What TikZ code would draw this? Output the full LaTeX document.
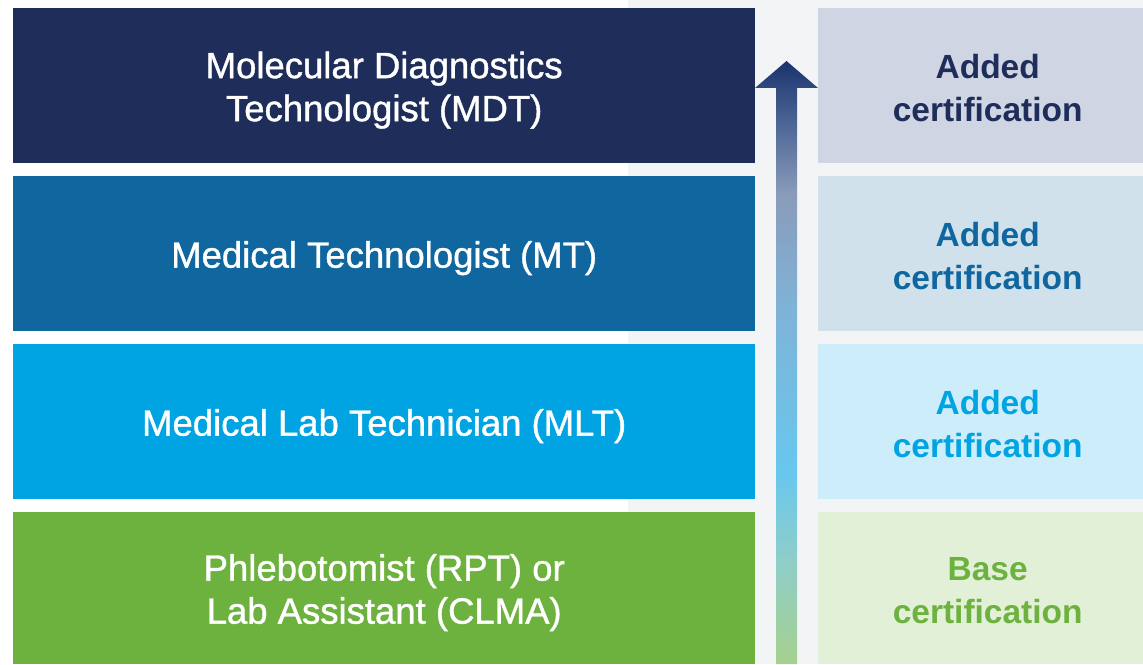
\documentclass[tikz,border=0pt]{standalone}
\usepackage{fontspec}
\setmainfont{Liberation Sans}
\newfontfamily\levelfont{Liberation Sans}[FakeBold=1.1]

% palette
\definecolor{mdtdark}{HTML}{1E2D5A}
\definecolor{mtblue}{HTML}{10679F}
\definecolor{mltcyan}{HTML}{00A4E2}
\definecolor{rptgreen}{HTML}{6DB23E}
\definecolor{mdtpale}{HTML}{D0D5E3}
\definecolor{mtpale}{HTML}{D0E1EC}
\definecolor{mltpale}{HTML}{CCEDF9}
\definecolor{rptpale}{HTML}{E2F0D8}
\definecolor{panelgray}{HTML}{F3F4F6}

% upward arrow gradient, bottom (25bp) to top (75bp)
\pgfdeclareverticalshading{ladder}{100bp}{%
  color(0bp)=({rgb,255:red,166;green,208;blue,142});
  color(25bp)=({rgb,255:red,166;green,208;blue,142});
  color(33.5bp)=({rgb,255:red,143;green,206;blue,200});
  color(41bp)=({rgb,255:red,104;green,199;blue,238});
  color(55bp)=({rgb,255:red,128;green,178;blue,214});
  color(64bp)=({rgb,255:red,138;green,155;blue,186});
  color(70bp)=({rgb,255:red,74;green,100;blue,148});
  color(75bp)=({rgb,255:red,27;green,51;blue,110});
  color(100bp)=({rgb,255:red,27;green,51;blue,110})}

\tikzset{
  levelbox/.style={rectangle, inner sep=0pt, minimum width=742pt, minimum height=155pt,
    anchor=north west},
  certbox/.style={rectangle, inner sep=0pt, minimum width=339pt, minimum height=155pt,
    anchor=north west},
  leveltext/.style={inner sep=0pt, text=white, align=center,
    font=\levelfont\fontsize{36.5}{43}\selectfont},
  certtext/.style={inner sep=0pt, align=center,
    font=\bfseries\fontsize{33.5}{43}\selectfont},
}

\begin{document}
\begin{tikzpicture}[x=1pt,y=1pt]
  % canvas
  \fill[white] (0,0) rectangle (1143,664);
  \fill[panelgray] (628,0) rectangle (1143,664);
  \useasboundingbox (0,0) rectangle (1143,664);

  % career levels
  \node[levelbox, fill=mdtdark] (mdt) at (13,656) {};
  \node[levelbox, fill=mtblue] (mt) at (13,488) {};
  \node[levelbox, fill=mltcyan] (mlt) at (13,320) {};
  \node[levelbox, fill=rptgreen, minimum height=152pt] (rpt) at (13,152) {};

  \node[leveltext] (mdtlabel) at ([yshift=-4.5pt]mdt.center)
    {Molecular Diagnostics\\Technologist (MDT)};
  \node[leveltext] (mtlabel) at ([yshift=-4.5pt]mt.center)
    {Medical Technologist (MT)};
  \node[leveltext] (mltlabel) at ([yshift=-4.5pt]mlt.center)
    {Medical Lab Technician (MLT)};
  \node[leveltext] (rptlabel) at ([yshift=-4.5pt]rpt.center)
    {Phlebotomist (RPT) or\\Lab Assistant (CLMA)};

  % certifications
  \node[certbox, fill=mdtpale] (cmdt) at (818,656) {};
  \node[certbox, fill=mtpale] (cmt) at (818,488) {};
  \node[certbox, fill=mltpale] (cmlt) at (818,320) {};
  \node[certbox, fill=rptpale, minimum height=152pt] (crpt) at (818,152) {};

  \node[certtext, text=mdtdark] (cmdtlabel) at ([yshift=-2pt]cmdt.center)
    {Added\\certification};
  \node[certtext, text=mtblue] (cmtlabel) at ([yshift=-2pt]cmt.center)
    {Added\\certification};
  \node[certtext, text=mltcyan] (cmltlabel) at ([yshift=-2pt]cmlt.center)
    {Added\\certification};
  \node[certtext, text=rptgreen] (crptlabel) at ([yshift=-2pt]crpt.center)
    {Base\\certification};

  % progression arrow
  \shade[shading=ladder]
    (776,0) -- (776,576) -- (755,576) -- (786.5,603) -- (818,576)
    -- (797,576) -- (797,0) -- cycle;
\end{tikzpicture}
\end{document}
